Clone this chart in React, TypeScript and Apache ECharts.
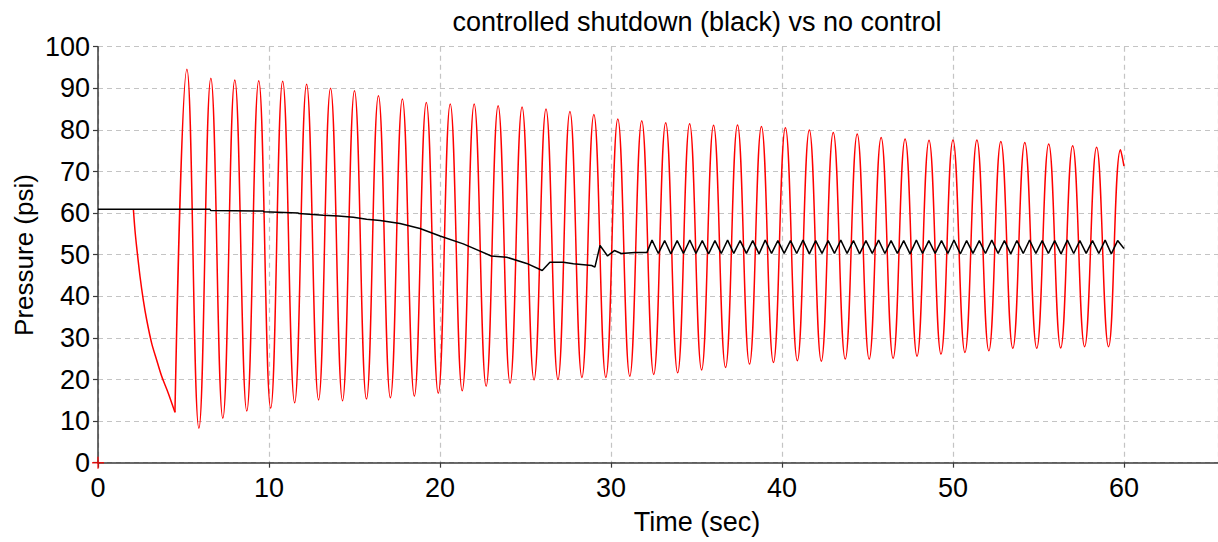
import React, { useEffect, useRef } from "react";
import * as echarts from "echarts";

// Uncontrolled (red): initial pressure drop before oscillation starts
const redDropTime = [2.07, 2.16, 2.26, 2.46, 2.65, 2.85, 3.14, 3.43, 3.73, 4.11, 4.5];
const redDropPsi = [60.9, 56.0, 51.9, 44.7, 39.1, 34.3, 28.7, 24.7, 20.7, 16.7, 12.1];

// Uncontrolled (red): oscillation peaks
const redPeakTime = [
  5.2, 6.6, 8.0, 9.4, 10.8, 12.2, 13.6, 15.0, 16.4, 17.8,
  19.2, 20.6, 22.0, 23.4, 24.8, 26.2, 27.6, 29.0, 30.4, 31.8,
  33.2, 34.6, 36.0, 37.4, 38.8, 40.2, 41.6, 43.0, 44.4, 45.8,
  47.2, 48.6, 50.0, 51.4, 52.8, 54.2, 55.6, 57.0, 58.4, 59.8,
];
const redPeakPsi = [
  94.6, 92.4, 92.0, 91.8, 91.7, 91.0, 90.0, 89.4, 88.2, 87.4,
  86.6, 86.2, 86.2, 85.8, 85.5, 85.0, 84.4, 83.7, 82.6, 82.2,
  81.7, 81.5, 81.1, 81.2, 80.8, 80.5, 80.0, 79.4, 79.0, 78.2,
  77.8, 77.5, 77.6, 77.6, 77.2, 77.0, 76.6, 76.2, 75.8, 75.2,
];
// Uncontrolled (red): oscillation troughs
const redTroughTime = [
  5.9, 7.3, 8.7, 10.1, 11.5, 12.9, 14.3, 15.7, 17.1, 18.5,
  19.9, 21.3, 22.7, 24.1, 25.5, 26.9, 28.3, 29.7, 31.1, 32.5,
  33.9, 35.3, 36.7, 38.1, 39.5, 40.9, 42.3, 43.7, 45.1, 46.5,
  47.9, 49.3, 50.7, 52.1, 53.5, 54.9, 56.3, 57.7, 59.1,
];
const redTroughPsi = [
  8.3, 10.7, 12.4, 13.1, 14.4, 15.1, 14.9, 15.3, 15.6, 16.0,
  16.7, 17.3, 18.4, 19.1, 19.9, 20.0, 20.5, 20.5, 20.8, 21.2,
  21.6, 22.3, 22.9, 23.7, 24.1, 24.5, 24.4, 24.9, 24.9, 25.1,
  25.6, 26.1, 26.5, 26.9, 27.5, 27.5, 27.6, 27.9, 27.9,
];
const redEnd = [60.0, 71.3];

// Controlled shutdown (black)
const blackTime = [
  0, 6.55, 6.6, 9.67, 9.7, 11.71, 11.75, 13.18, 14.05, 14.93, 15.71, 16.5,
  17.66, 18.83, 20.0, 21.36, 23.0, 23.9, 25.07, 25.98, 26.43, 27.21, 27.8,
  28.87, 29.06, 29.36, 29.8, 30.2, 30.6, 31.4, 32.1,
  32.40, 32.77, 33.14, 33.50, 33.87, 34.24, 34.61, 34.97, 35.34, 35.71,
  36.08, 36.45, 36.82, 37.18, 37.55, 37.92, 38.29, 38.66, 39.02, 39.39,
  39.76, 40.13, 40.50, 40.86, 41.23, 41.60, 41.97, 42.34, 42.70, 43.07,
  43.44, 43.81, 44.18, 44.54, 44.91, 45.28, 45.65, 46.02, 46.38, 46.75,
  47.12, 47.49, 47.86, 48.22, 48.59, 48.96, 49.33, 49.70, 50.06, 50.43,
  50.80, 51.17, 51.54, 51.90, 52.27, 52.64, 53.01, 53.38, 53.74, 54.11,
  54.48, 54.85, 55.22, 55.58, 55.95, 56.32, 56.69, 57.06, 57.42, 57.79,
  58.16, 58.53, 58.90, 59.26, 59.63, 60.00,
];
const blackPsi = [
  60.9, 60.9, 60.6, 60.5, 60.3, 60.0, 59.9, 59.5, 59.3, 59.0, 58.5, 58.2,
  57.5, 56.3, 54.5, 52.6, 49.7, 49.4, 47.9, 46.2, 48.2, 48.2, 47.8,
  47.4, 47.0, 52.2, 49.7, 51.0, 50.3, 50.5, 50.5,
  53.5, 50.3, 53.4, 50.2, 53.4, 50.3, 53.5, 50.3, 53.4, 50.2,
  53.4, 50.3, 53.5, 50.3, 53.4, 50.3, 53.4, 50.2, 53.5, 50.3,
  53.4, 50.3, 53.4, 50.3, 53.5, 50.2, 53.4, 50.3, 53.4, 50.3,
  53.5, 50.3, 53.4, 50.2, 53.4, 50.3, 53.5, 50.3, 53.4, 50.3,
  53.4, 50.2, 53.5, 50.3, 53.4, 50.3, 53.4, 50.3, 53.5, 50.2,
  53.4, 50.3, 53.4, 50.3, 53.5, 50.3, 53.4, 50.2, 53.4, 50.3,
  53.5, 50.3, 53.4, 50.3, 53.4, 50.2, 53.5, 50.3, 53.4, 50.3,
  53.4, 50.3, 53.5, 50.2, 53.4, 51.5,
];

const titleText = "controlled shutdown (black) vs no control";
const xName = "Time (sec)";
const yName = "Pressure (psi)";

const FONT = "'Liberation Sans', Arial, sans-serif";

export default function App() {
  const ref = useRef<HTMLDivElement>(null);

  useEffect(() => {
    if (!ref.current) return;
    const chart = echarts.init(ref.current, null, { renderer: "svg" });

    const redDrop = redDropTime.map((t, i) => [t, redDropPsi[i]]);
    const redOsc: number[][] = [[redDropTime[redDropTime.length - 1], redDropPsi[redDropPsi.length - 1]]];
    for (let i = 0; i < redPeakTime.length; i++) {
      redOsc.push([redPeakTime[i], redPeakPsi[i]]);
      if (i < redTroughTime.length) redOsc.push([redTroughTime[i], redTroughPsi[i]]);
    }
    redOsc.push(redEnd);
    const black = blackTime.map((t, i) => [t, blackPsi[i]]);

    const axisColor = "#3a3a3a";
    const gridLine = { show: true, lineStyle: { color: "#c4c4c4", type: [5, 4] as any, width: 1.2 } };

    chart.setOption({
      animation: false,
      backgroundColor: "#ffffff",
      grid: { left: 98, right: 0, top: 46.7, bottom: 79.3, containLabel: false },
      xAxis: {
        type: "value",
        min: 0,
        max: 65.5,
        interval: 10,
        axisLine: { show: true, onZero: false, lineStyle: { color: axisColor, width: 1.5 } },
        axisTick: { show: true, length: 5, lineStyle: { color: axisColor, width: 1.2 } },
        axisLabel: { showMaxLabel: false, color: "#000", fontSize: 27, fontFamily: FONT, margin: 12 },
        splitLine: gridLine,
      },
      yAxis: {
        type: "value",
        min: 0,
        max: 100,
        interval: 10,
        axisLine: { show: true, onZero: false, lineStyle: { color: axisColor, width: 1.5 } },
        axisTick: { show: true, length: 5, lineStyle: { color: axisColor, width: 1.2 } },
        axisLabel: { color: "#000", fontSize: 27, fontFamily: FONT, margin: 8 },
        splitLine: gridLine,
      },
      graphic: [
        {
          type: "text",
          x: 697,
          y: 22,
          style: { text: titleText, fill: "#000", font: `27px ${FONT}`, textAlign: "center", textVerticalAlign: "middle" },
        },
        {
          type: "text",
          x: 697,
          y: 522,
          style: { text: xName, fill: "#000", font: `27px ${FONT}`, textAlign: "center", textVerticalAlign: "middle" },
        },
        {
          type: "text",
          x: 24,
          y: 255,
          rotation: Math.PI / 2,
          style: { text: yName, fill: "#000", font: `26px ${FONT}`, textAlign: "center", textVerticalAlign: "middle" },
        },
      ],
      series: [
        {
          type: "line",
          data: redDrop,
          smooth: 0.3,
          showSymbol: false,
          lineStyle: { color: "#ff0000", width: 1.5 },
          z: 2,
        },
        {
          type: "line",
          data: redOsc,
          smooth: 0.45,
          showSymbol: false,
          lineStyle: { color: "#ff0000", width: 1.5 },
          z: 2,
        },
        {
          type: "line",
          data: black,
          showSymbol: false,
          lineStyle: { color: "#000000", width: 1.5 },
          z: 3,
        },
        {
          type: "scatter",
          data: [[0, 0]],
          symbol: "path://M0,5L10,5M5,0L5,10",
          symbolSize: 12,
          itemStyle: { color: "none", borderColor: "#ff0000", borderWidth: 1.5 },
          z: 4,
          silent: true,
        },
      ],
    });

    return () => chart.dispose();
  }, []);

  return (
    <div
      ref={ref}
      style={{ position: "fixed", left: 0, top: 0, width: 1218, height: 542, background: "#fff" }}
    />
  );
}
